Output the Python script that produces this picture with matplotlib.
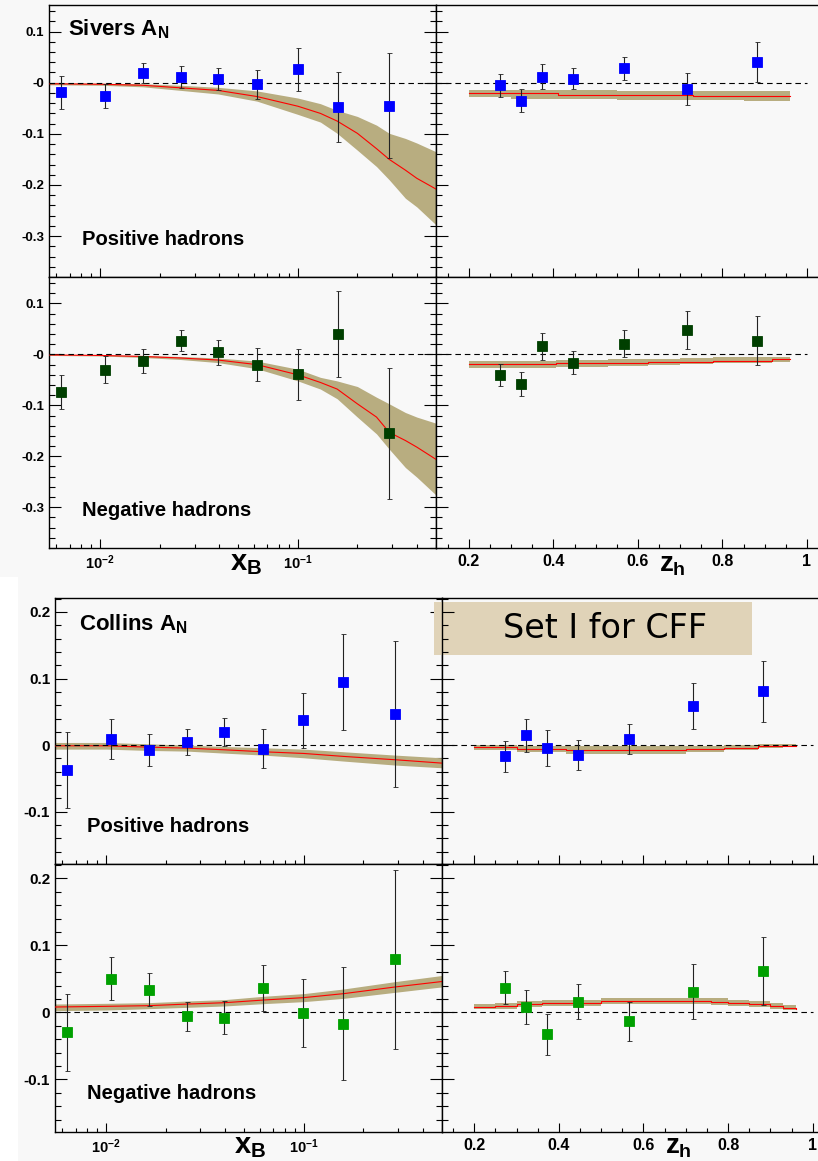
import matplotlib
matplotlib.use("Agg")
import matplotlib.pyplot as plt
from matplotlib.patches import Rectangle
from matplotlib.ticker import FixedLocator, FixedFormatter, LogLocator, NullFormatter, MultipleLocator

plt.rcParams['font.family'] = ['Liberation Sans', 'DejaVu Sans']
plt.rcParams['font.weight'] = 'bold'
plt.rcParams['mathtext.fontset'] = 'custom'
plt.rcParams['mathtext.rm'] = 'Liberation Sans:bold'
plt.rcParams['mathtext.it'] = 'Liberation Sans:bold'
plt.rcParams['mathtext.bf'] = 'Liberation Sans:bold'

W, H = 818, 1161
BG = '#f8f8f8'
BAND = '#b8ad80'
BLUE = '#0000ff'
DKGREEN = '#003f00'
GREEN = '#00a000'

# ---- measured points: x_B bins ----
xb = [0.0063, 0.0106, 0.0164, 0.0256, 0.0394, 0.062, 0.0997, 0.159, 0.290]
# ---- measured points: z_h bins ----
zh = [0.273, 0.323, 0.373, 0.446, 0.566, 0.717, 0.882]

# Sivers, positive / negative hadrons
siv_pos_x = [-0.019, -0.026, 0.019, 0.011, 0.007, -0.003, 0.026, -0.048, -0.045]
siv_pos_x_err = [0.033, 0.024, 0.020, 0.021, 0.022, 0.028, 0.042, 0.068, 0.103]
siv_neg_x = [-0.074, -0.030, -0.013, 0.027, 0.004, -0.020, -0.039, 0.040, -0.155]
siv_neg_x_err = [0.034, 0.026, 0.024, 0.021, 0.025, 0.032, 0.050, 0.084, 0.128]
siv_pos_z = [-0.005, -0.035, 0.012, 0.008, 0.028, -0.012, 0.040]
siv_pos_z_err = [0.022, 0.022, 0.025, 0.021, 0.022, 0.031, 0.039]
siv_neg_z = [-0.040, -0.058, 0.016, -0.016, 0.021, 0.048, 0.027]
siv_neg_z_err = [0.022, 0.023, 0.027, 0.023, 0.026, 0.038, 0.048]

# Collins, positive / negative hadrons
col_pos_x = [-0.037, 0.0095, -0.008, 0.0045, 0.020, -0.0055, 0.037, 0.095, 0.047]
col_pos_x_err = [0.057, 0.030, 0.024, 0.020, 0.021, 0.029, 0.041, 0.072, 0.110]
col_neg_x = [-0.030, 0.050, 0.034, -0.006, -0.008, 0.036, -0.001, -0.017, 0.079]
col_neg_x_err = [0.058, 0.032, 0.025, 0.022, 0.025, 0.034, 0.051, 0.084, 0.134]
col_pos_z = [-0.017, 0.015, -0.005, -0.0145, 0.009, 0.059, 0.081]
col_pos_z_err = [0.023, 0.025, 0.027, 0.0225, 0.023, 0.035, 0.046]
col_neg_z = [0.037, 0.008, -0.033, 0.016, -0.013, 0.031, 0.062]
col_neg_z_err = [0.025, 0.026, 0.031, 0.026, 0.029, 0.041, 0.051]

# ---- model curves with uncertainty bands ----
siv_xgrid = [0.0055, 0.01, 0.0164, 0.0255, 0.0394, 0.062, 0.1, 0.13, 0.158, 0.2, 0.25, 0.29, 0.35, 0.4, 0.5]
siv_pos_curve = [-0.002, -0.003, -0.005, -0.010, -0.015, -0.027, -0.046, -0.060, -0.075, -0.099, -0.129, -0.150, -0.171, -0.187, -0.208]
siv_pos_hi = [-0.000, -0.001, -0.002, -0.005, -0.009, -0.016, -0.030, -0.041, -0.054, -0.066, -0.083, -0.099, -0.109, -0.118, -0.135]
siv_pos_lo = [-0.004, -0.005, -0.008, -0.015, -0.022, -0.036, -0.062, -0.077, -0.099, -0.132, -0.164, -0.190, -0.226, -0.243, -0.278]
siv_neg_curve = [-0.001, -0.002, -0.004, -0.007, -0.011, -0.020, -0.040, -0.055, -0.068, -0.097, -0.123, -0.153, -0.169, -0.182, -0.206]
siv_neg_hi = [-0.000, -0.001, -0.002, -0.004, -0.007, -0.013, -0.029, -0.045, -0.052, -0.063, -0.084, -0.097, -0.114, -0.123, -0.135]
siv_neg_lo = [-0.002, -0.003, -0.006, -0.010, -0.016, -0.028, -0.052, -0.068, -0.087, -0.123, -0.156, -0.186, -0.222, -0.241, -0.276]

siv_pos_zgrid = [0.2, 0.3, 0.41, 0.55, 0.73, 0.85, 0.96]
siv_pos_zcurve = [-0.020, -0.020, -0.0234, -0.0234, -0.0253, -0.0253, -0.0253]
siv_pos_zhi = [-0.0137, -0.0137, -0.0137, -0.0160, -0.0160, -0.0160, -0.0160]
siv_pos_zlo = [-0.028, -0.031, -0.031, -0.033, -0.033, -0.036, -0.036]

siv_neg_zgrid = [0.2, 0.405, 0.53, 0.623, 0.70, 0.778, 0.918, 0.96]
siv_neg_zcurve = [-0.019, -0.016, -0.016, -0.0143, -0.0143, -0.0124, -0.0098, -0.0098]
siv_neg_zhi = [-0.012, -0.010, -0.009, -0.008, -0.007, -0.006, -0.005, -0.005]
siv_neg_zlo = [-0.026, -0.024, -0.022, -0.020, -0.019, -0.017, -0.015, -0.015]

col_xgrid = [0.0055, 0.01, 0.0164, 0.0257, 0.0396, 0.0625, 0.1, 0.16, 0.292, 0.5]
col_pos_curve = [-0.001, -0.001, -0.003, -0.0045, -0.007, -0.010, -0.0125, -0.017, -0.022, -0.027]
col_pos_hi = [0.004, 0.004, 0.002, 0.000, -0.002, -0.004, -0.006, -0.010, -0.015, -0.019]
col_pos_lo = [-0.006, -0.006, -0.008, -0.009, -0.012, -0.015, -0.019, -0.024, -0.030, -0.034]
col_neg_curve = [0.008, 0.009, 0.010, 0.0124, 0.0144, 0.0184, 0.022, 0.028, 0.038, 0.046]
col_neg_hi = [0.0125, 0.0135, 0.0145, 0.017, 0.019, 0.024, 0.028, 0.035, 0.046, 0.055]
col_neg_lo = [0.0025, 0.0035, 0.0055, 0.0075, 0.0095, 0.013, 0.016, 0.021, 0.030, 0.038]

col_pos_zgrid = [0.2, 0.30, 0.416, 0.55, 0.70, 0.79, 0.871, 0.93, 0.96]
col_pos_zcurve = [-0.0035, -0.006, -0.008, -0.008, -0.006, -0.004, -0.002, -0.001, -0.001]
col_pos_zhi = [-0.000, -0.001, -0.001, -0.001, -0.001, 0.000, 0.001, 0.001, 0.001]
col_pos_zlo = [-0.007, -0.010, -0.013, -0.013, -0.011, -0.008, -0.005, -0.003, -0.003]

col_neg_zgrid = [0.2, 0.25, 0.3, 0.36, 0.5, 0.55, 0.76, 0.8, 0.85, 0.9, 0.93, 0.96]
col_neg_zcurve = [0.0084, 0.0099, 0.0119, 0.0134, 0.0164, 0.0174, 0.0159, 0.0144, 0.0119, 0.0094, 0.0065, 0.0045]
col_neg_zhi = [0.0125, 0.0145, 0.0165, 0.018, 0.021, 0.022, 0.021, 0.019, 0.0165, 0.014, 0.011, 0.008]
col_neg_zlo = [0.0045, 0.0055, 0.0075, 0.009, 0.012, 0.013, 0.0115, 0.010, 0.0075, 0.005, 0.003, 0.002]

siv_yticks = [-0.3, -0.2, -0.1, 0.0, 0.1]
siv_ylabels = ['-0.3', '-0.2', '-0.1', '-0', '0.1']
col_yticks = [-0.1, 0.0, 0.1, 0.2]
col_ylabels = ['-0.1', '0', '0.1', '0.2']
log_ticks = [0.01, 0.1]
log_labels = ['$10^{-2}$', '$10^{-1}$']
z_ticks = [0.2, 0.4, 0.6, 0.8, 1.0]
z_labels = ['0.2', '0.4', '0.6', '0.8', '1']


fig = plt.figure(figsize=(W / 100, H / 100), dpi=100)
fig.patch.set_facecolor('white')
# the two grey canvases
fig.add_artist(Rectangle((0, 1 - 577 / H), 1, 577 / H, transform=fig.transFigure,
                         color=BG, lw=0, zorder=-10))
fig.add_artist(Rectangle((18 / W, 0), 1, (H - 577) / H, transform=fig.transFigure,
                         color=BG, lw=0, zorder=-10))


def add_pad(x0, y0, x1, y1):
    ax = fig.add_axes([x0 / W, 1 - y1 / H, (x1 - x0) / W, (y1 - y0) / H])
    ax.set_facecolor(BG)
    for s in ax.spines.values():
        s.set_linewidth(1.0)
        s.set_color('black')
    return ax


def style(ax, ylim, yticks, ylabels, ylabsize, logx, xlabels, left_pad):
    ax.set_ylim(*ylim)
    ax.yaxis.set_major_locator(FixedLocator(yticks))
    ax.yaxis.set_minor_locator(MultipleLocator(0.02))
    if left_pad:
        ax.yaxis.set_major_formatter(FixedFormatter(ylabels))
        ax.tick_params(axis='y', which='both', left=True, right=True, labelleft=True)
    else:
        ax.spines['right'].set_visible(False)
        ax.tick_params(axis='y', which='both', left=True, right=False, labelleft=False)
    ax.tick_params(axis='y', which='major', direction='in', length=8.5, width=0.8,
                   labelsize=ylabsize, pad=3.5)
    ax.tick_params(axis='y', which='minor', direction='in', length=4.3, width=0.8)

    if logx:
        ax.set_xscale('log')
        ax.set_xlim(0.0055, 0.5)
        ax.xaxis.set_major_locator(FixedLocator(log_ticks))
        ax.xaxis.set_major_formatter(FixedFormatter(log_labels))
        ax.xaxis.set_minor_locator(LogLocator(base=10, subs=range(2, 10), numticks=20))
        ax.xaxis.set_minor_formatter(NullFormatter())
        xsize = 10.5
    else:
        ax.xaxis.set_major_locator(FixedLocator(z_ticks))
        ax.xaxis.set_major_formatter(FixedFormatter(z_labels))
        ax.xaxis.set_minor_locator(MultipleLocator(0.05))
        xsize = 11.5
    ax.tick_params(axis='x', which='major', direction='in', length=6.5, width=0.8,
                   top=False, labelbottom=xlabels, labelsize=xsize, pad=4)
    ax.tick_params(axis='x', which='minor', direction='in', length=3, width=0.8, top=False)


def draw(ax, x, y, e, color, grid, curve, lo, hi, step):
    if step:
        ax.fill_between(grid, lo, hi, step='post', color=BAND, lw=0, zorder=2)
        ax.plot(grid, curve, color='red', lw=0.8, drawstyle='steps-post', zorder=3)
        ax.hlines(0, ax.get_xlim()[0], 1.0, colors='black', lw=0.8,
                  linestyles=(0, (5, 3.5)), zorder=4)
    else:
        ax.fill_between(grid, lo, hi, color=BAND, lw=0, zorder=2)
        ax.plot(grid, curve, color='red', lw=0.8, zorder=3)
        ax.axhline(0, color='black', lw=0.8, ls=(0, (5, 3.5)), zorder=4)
    ax.errorbar(x, y, yerr=e, fmt='s', color=color, ms=7.2, mec=color, mew=0.6,
                ecolor='#222222', elinewidth=0.8, capsize=1.8, capthick=0.8, zorder=5)


# ---- Sivers block ----
siv_ylim = (-0.38, 0.152)
ax1 = add_pad(49, 5, 436, 277)
style(ax1, siv_ylim, siv_yticks, siv_ylabels, 9.5, True, False, True)
draw(ax1, xb, siv_pos_x, siv_pos_x_err, BLUE, siv_xgrid, siv_pos_curve, siv_pos_lo, siv_pos_hi, False)

ax2 = add_pad(436, 5, 822, 277)
ax2.set_xlim(0.122, 1.0355)
style(ax2, siv_ylim, siv_yticks, siv_ylabels, 9.5, False, False, False)
draw(ax2, zh, siv_pos_z, siv_pos_z_err, BLUE, siv_pos_zgrid, siv_pos_zcurve, siv_pos_zlo, siv_pos_zhi, True)

ax3 = add_pad(49, 277, 436, 548)
style(ax3, siv_ylim, siv_yticks, siv_ylabels, 9.5, True, True, True)
draw(ax3, xb, siv_neg_x, siv_neg_x_err, DKGREEN, siv_xgrid, siv_neg_curve, siv_neg_lo, siv_neg_hi, False)

ax4 = add_pad(436, 277, 822, 548)
ax4.set_xlim(0.122, 1.0355)
style(ax4, siv_ylim, siv_yticks, siv_ylabels, 9.5, False, True, False)
draw(ax4, zh, siv_neg_z, siv_neg_z_err, DKGREEN, siv_neg_zgrid, siv_neg_zcurve, siv_neg_zlo, siv_neg_zhi, True)

fig.text(68 / W, 1 - 35 / H, 'Sivers A$_\\mathrm{N}$', fontsize=16, va='baseline')
fig.text(82 / W, 1 - 245 / H, 'Positive hadrons', fontsize=14.5, va='baseline')
fig.text(82 / W, 1 - 516 / H, 'Negative hadrons', fontsize=14.5, va='baseline')
fig.text(246 / W, 1 - 570 / H, '$x_B$', fontsize=21, ha='center', va='baseline')
fig.text(672 / W, 1 - 571 / H, '$z_h$', fontsize=20, ha='center', va='baseline')

# ---- Collins block ----
col_ylim = (-0.179, 0.221)
ax5 = add_pad(55, 598, 441.7, 864.3)
style(ax5, col_ylim, col_yticks, col_ylabels, 11, True, False, True)
draw(ax5, xb, col_pos_x, col_pos_x_err, BLUE, col_xgrid, col_pos_curve, col_pos_lo, col_pos_hi, False)

ax6 = add_pad(441.7, 598, 822, 864.3)
ax6.set_xlim(0.123, 1.022)
style(ax6, col_ylim, col_yticks, col_ylabels, 11, False, False, False)
draw(ax6, zh, col_pos_z, col_pos_z_err, BLUE, col_pos_zgrid, col_pos_zcurve, col_pos_zlo, col_pos_zhi, True)

ax7 = add_pad(55, 864.3, 441.7, 1132.3)
style(ax7, col_ylim, col_yticks, col_ylabels, 11, True, True, True)
draw(ax7, xb, col_neg_x, col_neg_x_err, GREEN, col_xgrid, col_neg_curve, col_neg_lo, col_neg_hi, False)

ax8 = add_pad(441.7, 864.3, 822, 1132.3)
ax8.set_xlim(0.123, 1.022)
style(ax8, col_ylim, col_yticks, col_ylabels, 11, False, True, False)
draw(ax8, zh, col_neg_z, col_neg_z_err, GREEN, col_neg_zgrid, col_neg_zcurve, col_neg_zlo, col_neg_zhi, True)

fig.text(79 / W, 1 - 630 / H, 'Collins A$_\\mathrm{N}$', fontsize=16, va='baseline')
fig.text(87 / W, 1 - 832 / H, 'Positive hadrons', fontsize=14.5, va='baseline')
fig.text(87 / W, 1 - 1099 / H, 'Negative hadrons', fontsize=14.5, va='baseline')
fig.text(250 / W, 1 - 1153 / H, '$x_B$', fontsize=21, ha='center', va='baseline')
fig.text(678 / W, 1 - 1153 / H, '$z_h$', fontsize=20, ha='center', va='baseline')

# grey strip under the Sivers block, it trims the axis titles
fig.add_artist(Rectangle((18 / W, 1 - 597 / H), 1, 22 / H, transform=fig.transFigure,
                         color=BG, lw=0, zorder=10))

# label box sitting over the Collins pads
box = Rectangle((434 / W, 1 - 655 / H), (752 - 434) / W, (655 - 602) / H,
                transform=fig.transFigure, color='#e0d3b8', lw=0, zorder=1)
ax6.add_artist(box)
box.set_clip_on(False)
ax6.text(605 / W, 1 - 629 / H, 'Set I for CFF', transform=fig.transFigure,
         family='DejaVu Sans', fontweight='normal', fontsize=24,
         ha='center', va='center', zorder=1.5)

fig.savefig('out.png', dpi=100, facecolor=fig.get_facecolor())
